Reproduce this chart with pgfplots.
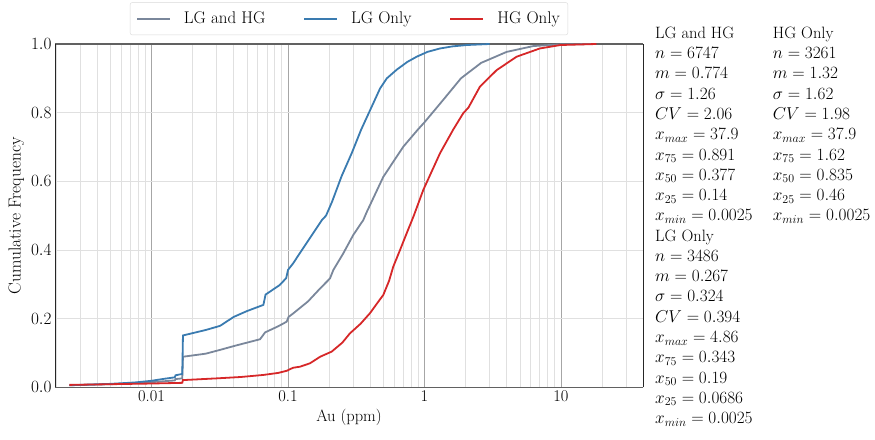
\documentclass[border=0pt]{standalone}
\usepackage{pgfplots}
\pgfplotsset{compat=1.18}
\definecolor{cLGHG}{RGB}{122,135,155}
\definecolor{cLG}{RGB}{58,123,176}
\definecolor{cHG}{RGB}{214,39,40}
\newcommand{\txtfont}{\fontsize{16.5}{20.35}\selectfont}
\newcommand{\tickfont}{\fontsize{16.5}{19}\selectfont}
\begin{document}
\begin{tikzpicture}
\begin{axis}[
  scale only axis, width=588bp, height=343.3bp,
  xmode=log, xmin=0.001963, xmax=39.9, ymin=0, ymax=1,
  xtick={0.01,0.1,1,10}, xticklabels={0.01,0.1,1,10},
  minor xtick={0.002,0.003,0.004,0.005,0.006,0.007,0.008,0.009,
    0.02,0.03,0.04,0.05,0.06,0.07,0.08,0.09,
    0.2,0.3,0.4,0.5,0.6,0.7,0.8,0.9,
    2,3,4,5,6,7,8,9,20,30},
  ytick={0,0.2,0.4,0.6,0.8,1},
  yticklabel style={/pgf/number format/.cd,fixed,fixed zerofill,precision=1},
  tick label style={font=\tickfont},
  xlabel style={font=\txtfont},
  ylabel style={font=\fontsize{17.5}{20}\selectfont},
  xlabel={Au (ppm)}, ylabel={Cumulative Frequency},
  major tick length=0pt, minor tick length=0pt,
  xmajorgrids, xminorgrids, ymajorgrids,
  major x grid style={draw=black!35, line width=0.7bp},
  minor x grid style={draw=black!12, line width=0.7bp},
  major y grid style={draw=black!12, line width=0.7bp},
  separate axis lines,
  x axis line style={draw=black!62, line width=1.6bp},
  y axis line style={draw=black!85, line width=0.8bp},
  clip=false,
  legend columns=3,
  legend image code/.code={\draw[#1] (0bp,0bp) -- (33bp,0bp); \path (44bp,0bp);},
  legend style={at={(axis description cs:0.5,1.026)}, anchor=south,
    draw=black!15, rounded corners=2bp, fill=white,
    font=\fontsize{17}{20}\selectfont,
    inner xsep=6bp, inner ysep=7.5bp,
    /tikz/every even column/.append style={column sep=36bp}},
  every axis plot/.append style={line width=1.8bp},
]
\addplot[cLGHG] coordinates {
(0.0025,0.006) (0.005,0.009) (0.0075,0.012) (0.01,0.015) (0.0148,0.020)
(0.015,0.024) (0.0168,0.026) (0.0170,0.089) (0.025,0.098) (0.0318,0.109)
(0.04,0.120) (0.0624,0.140) (0.068,0.160) (0.085,0.178) (0.0977,0.191)
(0.101,0.205) (0.109,0.215) (0.14,0.25) (0.172,0.288) (0.203,0.317)
(0.215,0.342) (0.254,0.390) (0.301,0.444) (0.356,0.487) (0.377,0.51)
(0.499,0.613) (0.70,0.701) (0.891,0.75) (1.0,0.772) (1.37,0.837)
(1.85,0.900) (2.6,0.945) (4.0,0.977) (6.27,0.994) (10,0.999) (18,1.0)
};
\addlegendentry{LG and HG}
\addplot[cLG] coordinates {
(0.0025,0.006) (0.005,0.010) (0.0075,0.014) (0.01,0.019) (0.0125,0.025)
(0.0148,0.029) (0.015,0.035) (0.0168,0.039) (0.0170,0.151) (0.025,0.167)
(0.0318,0.179) (0.04,0.205) (0.05,0.222) (0.066,0.240) (0.0685,0.270)
(0.087,0.298) (0.097,0.318) (0.1,0.342) (0.109,0.361) (0.129,0.405)
(0.153,0.449) (0.177,0.487) (0.19,0.50) (0.21,0.54) (0.247,0.615)
(0.293,0.682) (0.343,0.75) (0.41,0.817) (0.472,0.870) (0.53,0.90)
(0.625,0.925) (0.75,0.948) (0.877,0.963) (1.05,0.977) (1.30,0.987)
(1.6,0.993) (2.04,0.997) (3.0,1.0)
};
\addlegendentry{LG Only}
\addplot[cHG] coordinates {
(0.0025,0.007) (0.005,0.009) (0.01,0.011) (0.0168,0.013) (0.0170,0.021)
(0.03,0.026) (0.045,0.030) (0.066,0.036) (0.085,0.042) (0.0977,0.048)
(0.109,0.057) (0.1225,0.060) (0.145,0.070) (0.172,0.089) (0.209,0.104)
(0.25,0.130) (0.284,0.157) (0.34,0.185) (0.399,0.216) (0.46,0.250)
(0.499,0.269) (0.55,0.31) (0.590,0.351) (0.662,0.400) (0.741,0.449)
(0.835,0.50) (0.98,0.575) (1.30,0.682) (1.62,0.75) (1.92,0.798)
(2.1,0.815) (2.55,0.876) (3.38,0.924) (4.73,0.963) (7.0,0.987)
(9.9,0.997) (18.2,1.0)
};
\addlegendentry{HG Only}
\node[anchor=north west, inner sep=0pt, align=left, font=\txtfont]
  at (axis description cs:1.0204,1.0504) {LG and HG\\
  $n=6747$\\ $m=0.774$\\ $\sigma=1.26$\\ $CV=2.06$\\ $x_{max}=37.9$\\
  $x_{75}=0.891$\\ $x_{50}=0.377$\\ $x_{25}=0.14$\\ $x_{min}=0.0025$\\
  LG Only\\
  $n=3486$\\ $m=0.267$\\ $\sigma=0.324$\\ $CV=0.394$\\ $x_{max}=4.86$\\
  $x_{75}=0.343$\\ $x_{50}=0.19$\\ $x_{25}=0.0686$\\ $x_{min}=0.0025$};
\node[anchor=north west, inner sep=0pt, align=left, font=\txtfont]
  at (axis description cs:1.2206,1.0504) {HG Only\\
  $n=3261$\\ $m=1.32$\\ $\sigma=1.62$\\ $CV=1.98$\\ $x_{max}=37.9$\\
  $x_{75}=1.62$\\ $x_{50}=0.835$\\ $x_{25}=0.46$\\ $x_{min}=0.0025$};
\end{axis}
\pgfresetboundingbox
\path[use as bounding box] (-55bp,-52.7bp) rectangle (820bp,387.3bp);
\end{tikzpicture}
\end{document}
